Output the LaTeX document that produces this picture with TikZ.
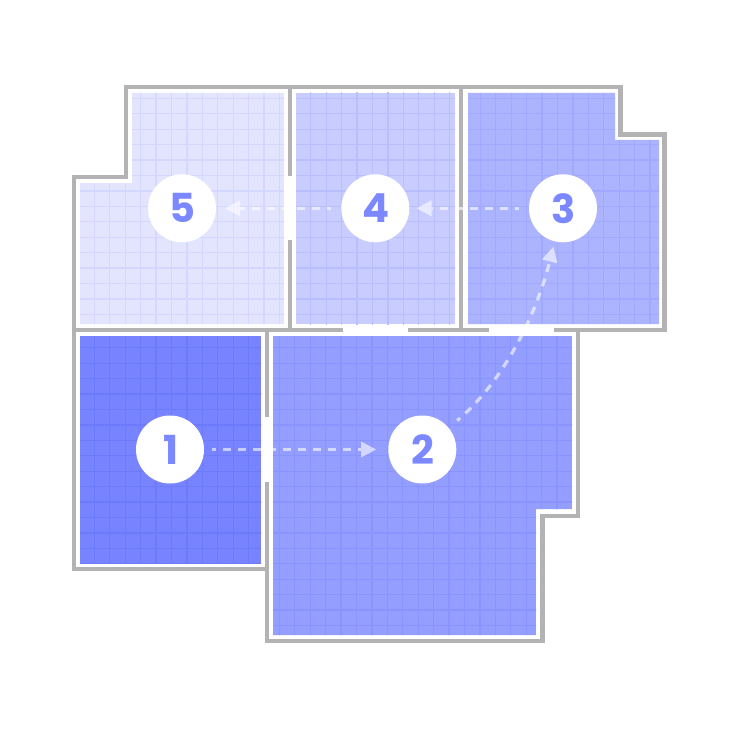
\documentclass[tikz,border=0pt]{standalone}
\usepackage{fontspec}
\setmainfont{Poppins}
\usetikzlibrary{arrows.meta}
\definecolor{wallgray}{HTML}{B3B3B3}
\definecolor{numblue}{HTML}{7C88FF}
\definecolor{roomA}{HTML}{7783FF}\definecolor{gridA}{HTML}{6E7AFC}
\definecolor{roomB}{HTML}{949EFF}\definecolor{gridB}{HTML}{8A94FF}
\definecolor{roomC}{HTML}{ACB3FF}\definecolor{gridC}{HTML}{A0A8FF}
\definecolor{roomD}{HTML}{C8CCFF}\definecolor{gridD}{HTML}{B9BEFF}
\definecolor{roomE}{HTML}{E3E5FF}\definecolor{gridE}{HTML}{D4D7FF}
\tikzset{
  wall/.style={draw=wallgray,line width=4.5pt,miter limit=10},
  gridline/.style={line width=1.3pt},
  badge/.style={circle,fill=white,minimum size=68pt,inner sep=0pt,text=numblue,font=\fontsize{40}{40}\selectfont\bfseries},
  flow/.style={draw=white,draw opacity=.6,fill opacity=.6,line width=3.2pt,dash pattern=on 8pt off 7pt,dash phase=4pt,
    -{Triangle[length=15pt,width=16pt,line width=0pt]}},
}
% #1 polygon, #2 fill, #3 grid colour, #4 first x, #5 first y
\newcommand{\roomarea}[5]{%
  \begin{scope}
    \clip #1;
    \fill[#2] #1;
    \foreach \k in {0,...,40} {
      \draw[gridline,#3] ({#4+\k*15.43},60) -- ({#4+\k*15.43},680);
      \draw[gridline,#3] (60,{#5+\k*15.43}) -- (700,{#5+\k*15.43});
    }
  \end{scope}}
\begin{document}
\begin{tikzpicture}[x=1pt,y=-1pt]
\useasboundingbox (0,0) rectangle (730,730);
% rooms
\roomarea{(80,183) -- (132,183) -- (132,93) -- (284,93) -- (284,324) -- (80,324) -- cycle}{roomE}{gridE}{94.4}{98.3}
\roomarea{(296,93) -- (455,93) -- (455,324) -- (296,324) -- cycle}{roomD}{gridD}{295.3}{98.3}
\roomarea{(468,93) -- (615,93) -- (615,140) -- (659,140) -- (659,324) -- (468,324) -- cycle}{roomC}{gridC}{480.3}{98.3}
\roomarea{(80,336) -- (261,336) -- (261,563) -- (80,563) -- cycle}{roomA}{gridA}{94.4}{347.8}
\roomarea{(273,336) -- (572,336) -- (572,509) -- (536,509) -- (536,635) -- (273,635) -- cycle}{roomB}{gridB}{279.3}{347.8}
% walls
\draw[wall] (554,330) -- (664.5,330) -- (664.5,134.5) -- (620.5,134.5) -- (620.5,87) -- (126,87) -- (126,177) -- (74,177) -- (74,569) -- (267,569);
\draw[wall] (74,330) -- (343,330);
\draw[wall] (408,330) -- (489,330);
\draw[wall] (290,87) -- (290,176);
\draw[wall] (290,240) -- (290,330);
\draw[wall] (461,87) -- (461,330);
\draw[wall] (267,330) -- (267,417);
\draw[wall] (267,482) -- (267,641) -- (542.5,641) -- (542.5,516) -- (578,516) -- (578,330);
% stations
\node[badge] (n1) at (170,449.5) {\kern2pt 1};
\node[badge] (n2) at (422.3,449.5) {\kern2pt 2};
\node[badge] (n3) at (563,208.3) {\kern2pt 3};
\node[badge] (n4) at (375.3,208.3) {\kern2pt 4};
\node[badge] (n5) at (182,208.3) {5};
% route
\draw[flow,shorten <=8pt,shorten >=12pt] (n1) -- (n2);
\draw[flow,shorten <=11pt,shorten >=5.5pt] (n2) .. controls (500,385) and (535,320) .. (n3);
\draw[flow,shorten <=10pt,shorten >=7pt] (n3) -- (n4);
\draw[flow,shorten <=10pt,shorten >=8.8pt] (n4) -- (n5);
\end{tikzpicture}
\end{document}
